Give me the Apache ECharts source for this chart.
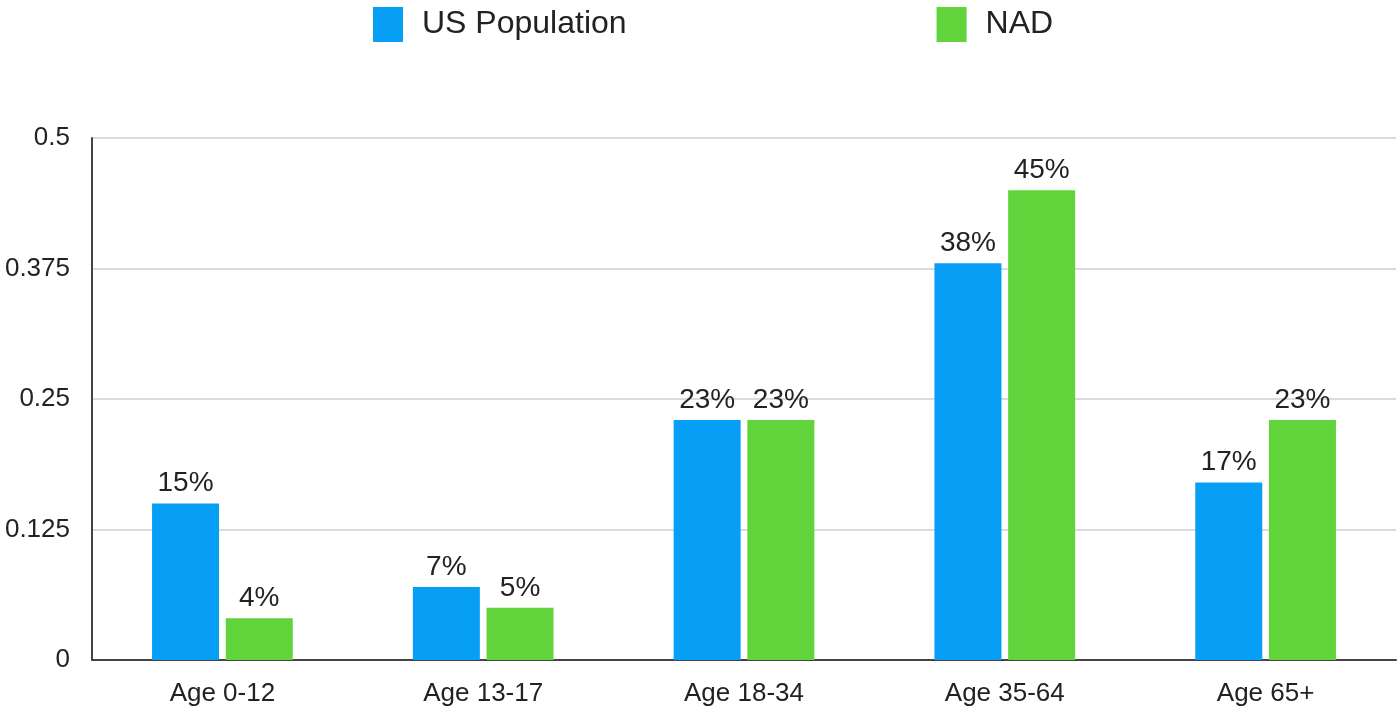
<!DOCTYPE html>
<html>
<head>
<meta charset="utf-8">
<script src="https://cdn.jsdelivr.net/npm/echarts@6/dist/echarts.min.js"></script>
<style>
html,body{margin:0;padding:0;background:#fff;}
#chart{width:1399px;height:714px;}
</style>
</head>
<body>
<div id="chart"></div>
<script>
const categories = ['Age 0-12', 'Age 13-17', 'Age 18-34', 'Age 35-64', 'Age 65+'];
const usPopulation = [0.15, 0.07, 0.23, 0.38, 0.17];
const nad = [0.04, 0.05, 0.23, 0.45, 0.23];
const seriesNames = ['US Population', 'NAD'];

const FONT = '"Liberation Sans", Arial, Helvetica, sans-serif';
const chart = echarts.init(document.getElementById('chart'));
const labelCfg = {
  show: true,
  position: 'top',
  distance: 6,
  color: '#222',
  fontSize: 28,
  fontFamily: FONT,
  formatter: p => Math.round(p.value * 100) + '%'
};
chart.setOption({
  animation: false,
  backgroundColor: '#fff',
  legend: {
    left: 373,
    top: 7,
    padding: 0,
    itemWidth: 30,
    itemHeight: 35,
    itemGap: 310,
    icon: 'rect',
    textStyle: { fontSize: 32, color: '#222', fontFamily: FONT, padding: [4, 0, 0, 14] },
    data: seriesNames
  },
  grid: { left: 92, right: 3, top: 138, bottom: 54, containLabel: false },
  xAxis: {
    type: 'category',
    data: categories,
    axisTick: { show: false },
    axisLine: { lineStyle: { color: '#444', width: 2 } },
    axisLabel: { fontSize: 26, color: '#222', fontFamily: FONT, margin: 21 }
  },
  yAxis: {
    type: 'value',
    min: 0,
    max: 0.5,
    interval: 0.125,
    axisLine: { show: true, lineStyle: { color: '#444', width: 2 } },
    axisTick: { show: false },
    splitLine: { lineStyle: { color: '#cfcfcf', width: 1.5 } },
    axisLabel: { fontSize: 26, color: '#222', fontFamily: FONT, margin: 22 }
  },
  series: [
    {
      name: seriesNames[0],
      type: 'bar',
      data: usPopulation,
      barWidth: 67,
      barGap: '10%',
      itemStyle: { color: '#079FF5' },
      label: labelCfg
    },
    {
      name: seriesNames[1],
      type: 'bar',
      data: nad,
      barWidth: 67,
      barGap: '10%',
      itemStyle: { color: '#60D43A' },
      label: labelCfg
    }
  ]
});
</script>
</body>
</html>
